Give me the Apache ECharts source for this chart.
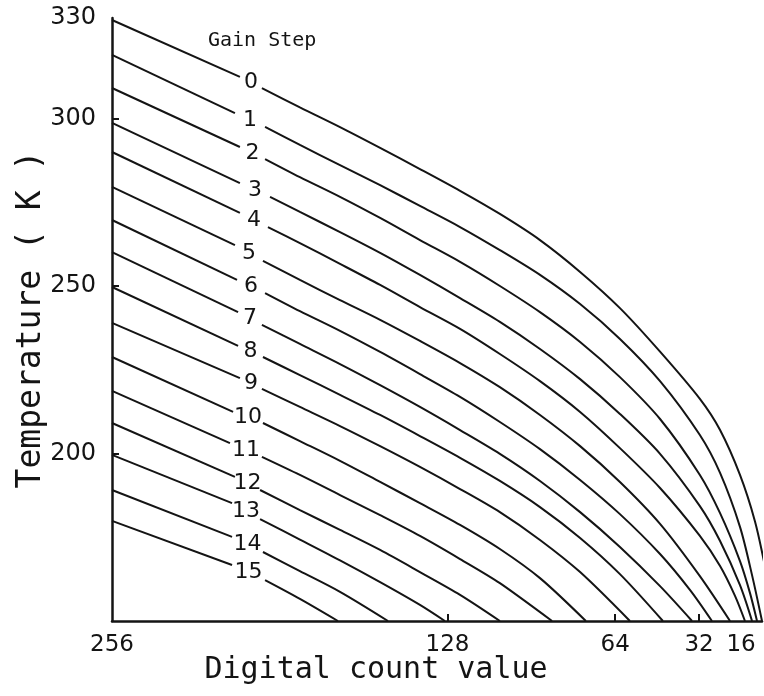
<!DOCTYPE html>
<html>
<head>
<meta charset="utf-8">
<script src="https://cdn.jsdelivr.net/npm/echarts@6/dist/echarts.min.js"></script>
<style>
  html, body { margin: 0; padding: 0; background: #ffffff; }
  #chart { width: 764px; height: 696px; }
</style>
</head>
<body>
<div id="chart"></div>
<script>
// Calibration curves: temperature (K) against digital count for each gain step.
// Each curve is [count, temperature] pairs; null marks the break where the
// gain-step number is written across the line.
const gainSteps = [0, 1, 2, 3, 4, 5, 6, 7, 8, 9, 10, 11, 12, 13, 14, 15];

const step0 = [[256, 329.4], [207.2, 312.4], null,
  [198.8, 309.1], [184.3, 303.3], [169.0, 297.4], [153.7, 291.2], [138.5, 284.9], [123.2, 278.4], [108.0, 271.5],
  [92.7, 263.7], [77.4, 254.2], [62.2, 243.4], [46.9, 230.4], [31.7, 216.3], [24.0, 207.0], [16.4, 193.6], [10.7, 179.8], [6.9, 166.4]];
const step1 = [[256, 319.0], [209.1, 301.6], null,
  [197.6, 297.5], [184.3, 292.1], [169.0, 286.1], [153.7, 280.1], [138.5, 273.9], [123.2, 267.6], [108.0, 260.7],
  [92.7, 253.3], [77.4, 244.6], [62.2, 234.2], [46.9, 221.6], [31.7, 205.5], [24.0, 194.2], [16.4, 178.1], [11.8, 163.7], [8.0, 150.0]];
const step2 = [[256, 309.1], [207.2, 291.5], null,
  [197.6, 287.9], [184.3, 282.5], [169.0, 276.6], [153.7, 270.3], [138.5, 263.7], [123.2, 257.2], [108.0, 250.0],
  [92.7, 242.2], [77.4, 233.3], [62.2, 222.8], [46.9, 210.3], [31.7, 193.6], [24.0, 182.2], [16.4, 167.9], [12.6, 158.4], [9.9, 150.0]];
const step3 = [[256, 298.7], [207.2, 280.7], null,
  [195.7, 276.6], [184.3, 272.1], [169.0, 266.1], [153.7, 259.9], [138.5, 253.3], [123.2, 246.4], [108.0, 239.3],
  [92.7, 231.2], [77.4, 222.2], [62.2, 211.8], [46.9, 199.9], [31.7, 184.3], [24.0, 173.9], [16.4, 160.7], [11.8, 150.0]];
const step4 = [[256, 290.0], [207.2, 271.8], null,
  [196.5, 267.6], [184.3, 262.8], [169.0, 256.6], [153.7, 250.3], [138.5, 243.7], [123.2, 237.2], [108.0, 229.7],
  [92.7, 221.6], [77.4, 212.4], [62.2, 201.6], [46.9, 189.7], [31.7, 175.4], [24.0, 166.4], [18.3, 157.5], [14.5, 150.0]];
const step5 = [[256, 279.6], [209.1, 262.2], null,
  [198.4, 257.5], [184.3, 251.8], [169.0, 245.8], [153.7, 239.9], [138.5, 233.6], [123.2, 227.0], [108.0, 219.8],
  [92.7, 211.5], [77.4, 202.2], [62.2, 191.5], [46.9, 179.0], [31.7, 163.4], [20.2, 150.0]];
const step6 = [[256, 269.7], [208.3, 251.8], null,
  [197.6, 247.9], [184.3, 242.5], [169.0, 236.6], [153.7, 230.3], [138.5, 223.7], [123.2, 216.9], [108.0, 209.4],
  [92.7, 201.3], [77.4, 192.1], [62.2, 181.9], [46.9, 170.0], [35.5, 159.3], [27.1, 150.0]];
const step7 = [[256, 260.1], [207.9, 242.2], null,
  [198.8, 238.4], [184.3, 232.7], [169.0, 226.7], [153.7, 220.4], [138.5, 213.9], [123.2, 207.0], [108.0, 199.9],
  [92.7, 191.8], [77.4, 182.5], [62.2, 172.1], [46.9, 160.4], [34.7, 150.0]];
const step8 = [[256, 249.7], [207.9, 232.1], null,
  [198.4, 228.8], [184.3, 223.4], [169.0, 217.5], [153.7, 211.5], [138.5, 205.2], [123.2, 198.7], [108.0, 191.8],
  [92.7, 184.0], [77.4, 174.8], [62.2, 164.0], [45.8, 150.0]];
const step9 = [[256, 239.0], [207.2, 222.5], null,
  [198.8, 219.3], [184.3, 213.9], [169.0, 208.2], [153.7, 202.2], [138.5, 196.0], [123.2, 189.4], [108.0, 182.5],
  [92.7, 174.2], [77.4, 164.6], [58.4, 150.0]];
const step10 = [[256, 228.8], [209.8, 212.4], null,
  [198.4, 209.1], [184.3, 203.7], [169.0, 197.8], [153.7, 191.5], [138.5, 185.2], [123.2, 178.7], [108.0, 171.5],
  [92.7, 162.8], [75.2, 150.0]];
const step11 = [[256, 218.7], [211.0, 203.1], null,
  [198.8, 199.0], [184.3, 193.6], [169.0, 187.6], [153.7, 181.6], [138.5, 175.4], [123.2, 168.5], [108.0, 161.3], [88.1, 150.0]];
const step12 = [[256, 209.1], [209.1, 193.0], null,
  [199.5, 189.1], [184.3, 183.1], [169.0, 177.2], [153.7, 171.2], [138.5, 164.6], [123.2, 157.8], [108.0, 150.0]];
const step13 = [[256, 199.6], [210.2, 185.2], null,
  [199.5, 180.4], [184.3, 174.3], [169.0, 168.1], [153.7, 161.6], [138.5, 154.8], [129.0, 150.0]];
const step14 = [[256, 189.1], [210.2, 175.1], null,
  [198.4, 170.6], [184.3, 164.9], [169.0, 158.7], [150.7, 150.0]];
const step15 = [[256, 179.9], [210.2, 166.7], null,
  [197.6, 162.2], [184.3, 156.6], [169.8, 150.0]];

const curves = [step0, step1, step2, step3, step4, step5, step6, step7,
                step8, step9, step10, step11, step12, step13, step14, step15];

// Axis ticks and labels
const countLabels = [256, 128, 64, 32, 16];
const countTicks = [128, 64, 32];
const tempLabels = [200, 250, 300, 330];
const tempTicks = [200, 250, 300];

const INK = '#141414';
const SANS = '"DejaVu Sans", "Liberation Sans", sans-serif';
const MONO = '"DejaVu Sans Mono", "Liberation Mono", monospace';

const series = [];
const stepLabelPoints = [];

curves.forEach((pts, k) => {
  const cut = pts.indexOf(null);
  const left = pts.slice(0, cut);
  const right = pts.slice(cut + 1);
  [left, right].forEach(seg => {
    series.push({
      type: 'line',
      data: seg,
      symbol: 'none',
      smooth: seg.length > 2 ? 0.3 : false,
      silent: true,
      lineStyle: { color: INK, width: 2 }
    });
  });
  // gain-step number sits in the gap between the two pieces of the curve
  const a = left[left.length - 1];
  const b = right[0];
  stepLabelPoints.push([(a[0] + b[0]) / 2, (a[1] + b[1]) / 2, gainSteps[k]]);
});

series.push({
  type: 'scatter',
  data: stepLabelPoints,
  symbolSize: 1,
  silent: true,
  itemStyle: { color: 'rgba(0,0,0,0)', opacity: 1 },
  label: {
    show: true,
    position: 'inside',
    formatter: p => String(p.value[2]),
    color: INK,
    opacity: 1,
    fontFamily: SANS,
    fontSize: 22
  },
  z: 5
});

const chart = echarts.init(document.getElementById('chart'), null, { renderer: 'canvas' });

chart.setOption({
  animation: false,
  backgroundColor: '#ffffff',
  title: {
    text: 'Gain Step',
    left: 203,
    top: 26,
    textStyle: { color: INK, fontFamily: MONO, fontWeight: 'normal', fontSize: 20 }
  },
  grid: { left: 112, top: 18, right: 2, bottom: 75 },
  xAxis: {
    type: 'value',
    inverse: true,
    min: 8,
    max: 256,
    name: 'Digital count value',
    nameLocation: 'middle',
    nameGap: 34,
    nameMoveOverlap: false,
    nameTextStyle: {
      color: INK, fontFamily: MONO, fontSize: 30,
      padding: [0, 122, 0, 0]
    },
    axisLine: { lineStyle: { color: INK, width: 2.5 } },
    axisTick: { show: true, inside: true, length: 7, customValues: countTicks, lineStyle: { color: INK, width: 2 } },
    axisLabel: { customValues: countLabels, color: INK, fontFamily: SANS, fontSize: 23, margin: 13 },
    splitLine: { show: false }
  },
  yAxis: {
    type: 'value',
    min: 150,
    max: 330,
    name: 'Temperature ( K )',
    nameLocation: 'middle',
    nameRotate: 90,
    nameGap: 64,
    nameMoveOverlap: false,
    nameTextStyle: { color: INK, fontFamily: MONO, fontSize: 33 },
    axisLine: { show: true, lineStyle: { color: INK, width: 2.5 } },
    axisTick: { show: true, inside: true, length: 7, customValues: tempTicks, lineStyle: { color: INK, width: 2 } },
    axisLabel: { customValues: tempLabels, color: INK, fontFamily: SANS, fontSize: 24, margin: 16 },
    splitLine: { show: false }
  },
  series: series
});
</script>
</body>
</html>
